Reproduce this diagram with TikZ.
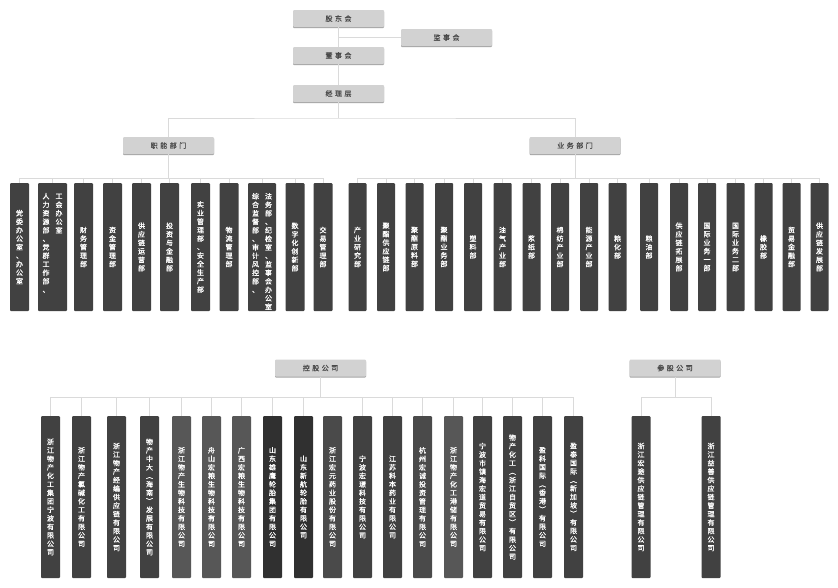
\documentclass[tikz,border=0pt]{standalone}
\usepackage{fontspec}
\newfontfamily\cjk[FakeBold=1]{Noto Sans CJK SC}
\usetikzlibrary{shadows}
\definecolor{linegray}{HTML}{DADADA}
\definecolor{hdrfill}{HTML}{D2D2D2}
\definecolor{hdrshadow}{HTML}{A5A5A5}
\definecolor{hdrtext}{HTML}{4A4A4A}
\definecolor{boxA}{HTML}{414141}
\definecolor{boxB}{HTML}{575757}
\definecolor{boxC}{HTML}{303030}
\definecolor{boxD}{HTML}{4A4A4A}
\makeatletter
\def\vt@a#1{\ifx\relax#1\else\hbox to 9pt{\hss#1\hss}\expandafter\vt@a\fi}
\newcommand\vtxt[1]{\vbox{\baselineskip=8.5pt\lineskiplimit=-20pt\vt@a#1\relax}}
\newcommand\vtxtt[1]{\vtop{\baselineskip=8.5pt\lineskiplimit=-20pt\vt@a#1\relax}}
\makeatother
\newcommand\twocol[2]{\vbox to 108pt{\hbox{\vtxtt{#1}\kern4pt\vtxtt{#2}}\vss}}
\newcommand\hs{\kern2.5pt}
\tikzset{
  conn/.style={draw=linegray, line width=1pt},
  hdr/.style={fill=hdrfill, text=hdrtext, minimum width=91pt, minimum height=17pt,
    inner sep=0pt, rounded corners=1pt,
    drop shadow={shadow xshift=0pt, shadow yshift=-1.2pt, fill=hdrshadow, opacity=1},
    font=\cjk\fontsize{7}{8}\selectfont},
  dbox/.style={fill=#1, text=white, inner sep=0pt, rounded corners=1pt,
    minimum width=19pt, font=\cjk\fontsize{7}{8.5}\selectfont},
  dbox/.default=boxA,
  toprow/.style={minimum height=128pt},
  botrow/.style={minimum height=162pt},
}
\begin{document}
\begin{tikzpicture}[x=1pt,y=1pt]
\useasboundingbox (0,0) rectangle (838,-587);
\fill[white] (0,0) rectangle (838,-587);
% top hierarchy
\node[hdr] (gd) at (338.5,-18.5) {股\hs 东\hs 会};
\node[hdr] (js) at (446.5,-37.5) {监\hs 事\hs 会};
\node[hdr] (ds) at (338.5,-55.5) {董\hs 事\hs 会};
\node[hdr] (jl) at (338.5,-93.5) {经\hs 理\hs 层};
\node[hdr] (zn) at (168.5,-145.5) {职\hs 能\hs 部\hs 门};
\node[hdr] (yw) at (575,-145.5) {业\hs 务\hs 部\hs 门};
\coordinate (top) at (338.5,-118);
\coordinate (zbar) at (0,-178);
\coordinate (kbar) at (0,-397);
\draw[conn] (gd) -- (ds);
\draw[conn] (ds) -- (jl);
\draw[conn] (js.west) -- (gd.south |- js.west);
\draw[conn] (jl.south) -- (top);
\draw[conn] (zn.north) |- (top) -| (yw.north);
% functional departments
\node[dbox,toprow] (L1) at (19.5,-247) {\vtxt{党委办公室、办公室}};
\node[dbox,toprow,minimum width=29pt] (L2) at (52.5,-247) {\twocol{人力资源部、党群工作部、}{工会办公室}};
\node[dbox,toprow] (L3) at (83.5,-247) {\vtxt{财务管理部}};
\node[dbox,toprow] (L4) at (112.5,-247) {\vtxt{资金管理部}};
\node[dbox,toprow] (L5) at (141.5,-247) {\vtxt{供应链运营部}};
\node[dbox,toprow] (L6) at (169.5,-247) {\vtxt{投资与金融部}};
\node[dbox,toprow] (L7) at (200.5,-247) {\vtxt{实业管理部、安全生产部}};
\node[dbox,toprow] (L8) at (229,-247) {\vtxt{物流管理部}};
\node[dbox,toprow,minimum width=28pt] (L9) at (262,-247) {\twocol{综合监督部、审计风控部、}{法务部、纪检室、监事会办公室}};
\node[dbox,toprow] (L10) at (295,-247) {\vtxt{数字化创新部}};
\node[dbox,toprow] (L11) at (323,-247) {\vtxt{交易管理部}};
\draw[conn] (zn.south) -- (zn.south |- zbar);
\draw[conn] (L1.north |- zbar) -- (L11.north |- zbar);
\foreach \i in {1,...,11} \draw[conn] (L\i.north) -- (L\i.north |- zbar);
% business departments
\node[dbox,toprow,minimum width=18pt] (R1) at (357.5,-247) {\vtxt{产业研究部}};
\node[dbox,toprow,minimum width=18pt] (R2) at (386,-247) {\vtxt{聚酯供应链部}};
\node[dbox,toprow,minimum width=18pt] (R3) at (414.5,-247) {\vtxt{聚酯原料部}};
\node[dbox,toprow,minimum width=18pt] (R4) at (444,-247) {\vtxt{聚酯业务部}};
\node[dbox,toprow,minimum width=18pt] (R5) at (473,-247) {\vtxt{塑料部}};
\node[dbox,toprow,minimum width=18pt] (R6) at (502.5,-247) {\vtxt{油气产业部}};
\node[dbox,toprow,minimum width=18pt] (R7) at (531.5,-247) {\vtxt{浆纸部}};
\node[dbox,toprow,minimum width=18pt] (R8) at (560,-247) {\vtxt{棉纺产业部}};
\node[dbox,toprow,minimum width=18pt] (R9) at (589,-247) {\vtxt{能源产业部}};
\node[dbox,toprow,minimum width=18pt] (R10) at (617.5,-247) {\vtxt{粮化部}};
\node[dbox,toprow,minimum width=18pt] (R11) at (649,-247) {\vtxt{粮油部}};
\node[dbox,toprow,minimum width=18pt] (R12) at (679,-247) {\vtxt{供应链拓展部}};
\node[dbox,toprow,minimum width=18pt] (R13) at (707,-247) {\vtxt{国际业务一部}};
\node[dbox,toprow,minimum width=18pt] (R14) at (735.5,-247) {\vtxt{国际业务二部}};
\node[dbox,toprow,minimum width=18pt] (R15) at (763.5,-247) {\vtxt{橡胶部}};
\node[dbox,toprow,minimum width=18pt] (R16) at (791.5,-247) {\vtxt{贸易金融部}};
\node[dbox,toprow,minimum width=18pt] (R17) at (819.5,-247) {\vtxt{供应链发展部}};
\draw[conn] (yw.south) -- (yw.south |- zbar);
\draw[conn] (R1.north |- zbar) -- (R17.north |- zbar);
\foreach \i in {1,...,17} \draw[conn] (R\i.north) -- (R\i.north |- zbar);
% holding companies
\node[hdr] (kg) at (320.5,-368) {控\hs 股\hs 公\hs 司};
\node[hdr] (cg) at (675,-368) {参\hs 股\hs 公\hs 司};
\node[dbox,botrow] (K1) at (50.5,-497) {\vtxt{浙江物产化工集团宁波有限公司}};
\node[dbox,botrow] (K2) at (81.5,-497) {\vtxt{浙江物产氯碱化工有限公司}};
\node[dbox,botrow] (K3) at (116.5,-497) {\vtxt{浙江物产经编供应链有限公司}};
\node[dbox,botrow] (K4) at (149.5,-497) {\vtxt{物产中大︵海南︶发展有限公司}};
\node[dbox=boxB,botrow] (K5) at (181.5,-497) {\vtxt{浙江物产生物科技有限公司}};
\node[dbox=boxB,botrow] (K6) at (211.5,-497) {\vtxt{舟山宏粮生物科技有限公司}};
\node[dbox=boxB,botrow] (K7) at (241.5,-497) {\vtxt{广西宏粮生物科技有限公司}};
\node[dbox=boxC,botrow] (K8) at (272.5,-497) {\vtxt{山东雄鹰轮胎集团有限公司}};
\node[dbox=boxC,botrow] (K9) at (303.5,-497) {\vtxt{山东新航轮胎有限公司}};
\node[dbox=boxD,botrow] (K10) at (332.5,-497) {\vtxt{浙江宏元药业股份有限公司}};
\node[dbox,botrow] (K11) at (362.5,-497) {\vtxt{宁波宏璟科技有限公司}};
\node[dbox,botrow] (K12) at (392.5,-497) {\vtxt{江苏科本药业有限公司}};
\node[dbox=boxD,botrow] (K13) at (422.5,-497) {\vtxt{杭州宏诚投资管理有限公司}};
\node[dbox=boxB,botrow] (K14) at (453.5,-497) {\vtxt{浙江物产化工港储有限公司}};
\node[dbox,botrow] (K15) at (482.5,-497) {\vtxt{宁波市镇海宏道贸易有限公司}};
\node[dbox,botrow] (K16) at (512.5,-497) {\vtxt{物产化工︵浙江自贸区︶有限公司}};
\node[dbox,botrow] (K17) at (542.5,-497) {\vtxt{盈科国际︵香港︶有限公司}};
\node[dbox,botrow] (K18) at (573.5,-497) {\vtxt{盈泰国际︵新加坡︶有限公司}};
\draw[conn] (kg.south) -- (kg.south |- kbar);
\draw[conn] (K1.north |- kbar) -- (K18.north |- kbar);
\foreach \i in {1,...,9,11,12,...,18} \draw[conn] (K\i.north) -- (K\i.north |- kbar);
% minority holdings
\node[dbox,botrow] (P1) at (641,-497) {\vtxt{浙江宏途供应链管理有限公司}};
\node[dbox,botrow] (P2) at (711,-497) {\vtxt{浙江益善供应链管理有限公司}};
\draw[conn] (cg.south) -- (cg.south |- kbar);
\draw[conn] (P1.north |- kbar) -- (P2.north |- kbar);
\foreach \i in {1,2} \draw[conn] (P\i.north) -- (P\i.north |- kbar);
\end{tikzpicture}
\end{document}
